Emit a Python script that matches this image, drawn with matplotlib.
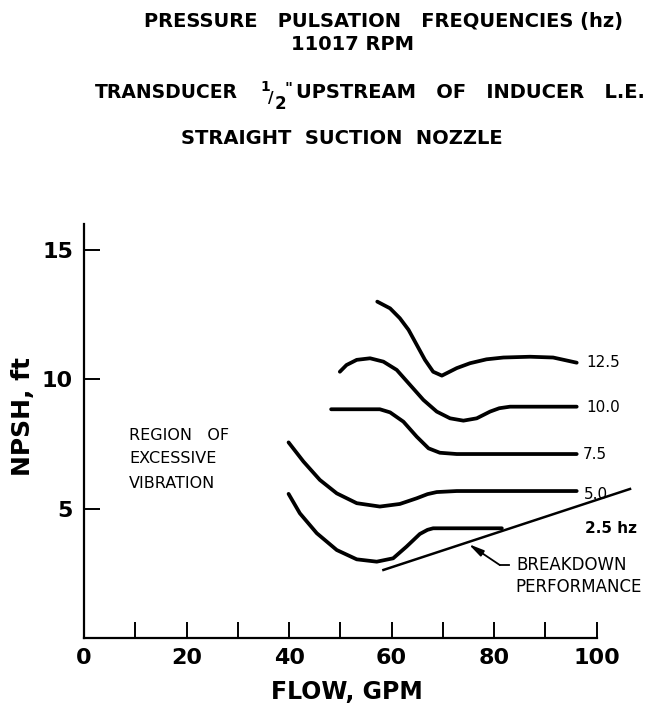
import matplotlib
matplotlib.use("Agg")
import matplotlib.pyplot as plt
from matplotlib.ticker import FixedLocator

# ---- data (FLOW gpm, NPSH ft) ----
flow_125 = [57.2, 59.7, 61.6, 63.3, 64.9, 66.5, 68.1, 69.8, 72.7, 75.3, 78.5, 81.8, 87.0, 91.5, 96.1]
npsh_125 = [13.0, 12.74, 12.36, 11.91, 11.33, 10.75, 10.29, 10.14, 10.43, 10.62, 10.77, 10.84, 10.87, 10.84, 10.64]

flow_100 = [49.9, 51.2, 53.2, 55.8, 58.4, 61.0, 63.6, 66.2, 68.8, 71.4, 74.0, 76.6, 79.2, 81.0, 83.1, 96.1]
npsh_100 = [10.29, 10.55, 10.75, 10.81, 10.68, 10.36, 9.78, 9.2, 8.75, 8.49, 8.40, 8.49, 8.75, 8.88, 8.94, 8.94]

flow_75 = [48.2, 57.7, 59.7, 62.3, 64.9, 67.2, 69.4, 72.7, 96.1]
npsh_75 = [8.84, 8.84, 8.72, 8.36, 7.78, 7.33, 7.16, 7.11, 7.11]

flow_50 = [39.9, 42.8, 46.0, 49.3, 53.2, 57.7, 61.6, 64.9, 67.0, 68.8, 72.7, 96.1]
npsh_50 = [7.56, 6.82, 6.11, 5.59, 5.21, 5.08, 5.18, 5.40, 5.56, 5.64, 5.68, 5.68]

flow_25 = [39.9, 42.1, 45.4, 49.3, 53.2, 57.1, 60.3, 62.9, 65.5, 67.0, 68.1, 81.5]
npsh_25 = [5.57, 4.82, 4.05, 3.40, 3.04, 2.95, 3.08, 3.53, 4.02, 4.18, 4.24, 4.24]

flow_breakdown = [58.4, 106.5]
npsh_breakdown = [2.63, 5.76]

curve_labels = ["12.5", "10.0", "7.5", "5.0", "2.5 hz"]
x_ticks_major = [0, 20, 40, 60, 80, 100]
x_ticks_minor = [10, 30, 50, 70, 90]
y_ticks = [5, 10, 15]

W, H = 645, 712
fig = plt.figure(figsize=(W / 100, H / 100), dpi=100)
fig.patch.set_facecolor("white")

def fx(px):
    return px / W

def fy(py):
    return 1 - py / H

ax = fig.add_axes([fx(84), fy(638), fx(596.7) - fx(84), fy(224) - fy(638)])
ax.set_xlim(0, 100)
ax.set_ylim(0, 16)

for s in ["top", "right"]:
    ax.spines[s].set_visible(False)
for s in ["left", "bottom"]:
    ax.spines[s].set_linewidth(1.6)
    ax.spines[s].set_color("black")

ax.xaxis.set_major_locator(FixedLocator(x_ticks_major))
ax.xaxis.set_minor_locator(FixedLocator(x_ticks_minor))
ax.yaxis.set_major_locator(FixedLocator(y_ticks))
ax.set_xticklabels([str(v) for v in x_ticks_major])
ax.set_yticklabels([str(v) for v in y_ticks])
ax.tick_params(axis="both", which="both", direction="in", length=11.5, width=1.4, color="black")
ax.tick_params(axis="x", which="major", pad=7, labelsize=16)
ax.tick_params(axis="y", which="major", pad=8, labelsize=16)
for lab in ax.get_xticklabels() + ax.get_yticklabels():
    lab.set_fontweight("bold")

lw = 2.7
series = [(flow_125, npsh_125), (flow_100, npsh_100), (flow_75, npsh_75),
          (flow_50, npsh_50), (flow_25, npsh_25)]
for fxs, fys in series:
    ax.plot(fxs, fys, color="black", lw=lw, solid_capstyle="round", solid_joinstyle="round")

ax.plot(flow_breakdown, npsh_breakdown, color="black", lw=1.8, clip_on=False)

# curve labels
label_pos = [(98.0, 10.64), (98.0, 8.90), (97.3, 7.11), (97.5, 5.53), (97.7, 4.24)]
for (lx, ly), t in zip(label_pos, curve_labels):
    ax.text(lx, ly, t, fontsize=11, ha="left", va="center", color="black",
            fontweight="bold" if "hz" in t else "normal", clip_on=False)

# breakdown annotation
ax.plot([82.8, 81.1], [2.82, 2.82], color="black", lw=1.3, clip_on=False)
ax.annotate("", xy=(75.0, 3.63), xytext=(81.1, 2.82),
            arrowprops=dict(arrowstyle="-|>,head_length=0.9,head_width=0.2", color="black", lw=1.3,
                            shrinkA=0, shrinkB=0))
ax.text(84.4, 2.82, "BREAKDOWN", fontsize=12, ha="left", va="center", clip_on=False)
ax.text(84.1, 1.97, "PERFORMANCE", fontsize=12, ha="left", va="center", clip_on=False)

# region text
ax.text(8.8, 7.84, "REGION   OF", fontsize=11.5, ha="left", va="center")
ax.text(8.8, 6.92, "EXCESSIVE", fontsize=11.5, ha="left", va="center")
ax.text(8.8, 5.98, "VIBRATION", fontsize=11.5, ha="left", va="center")

# axis labels
fig.text(fx(347), fy(692), "FLOW, GPM", fontsize=17, fontweight="bold", ha="center", va="center")
fig.text(fx(23), fy(417), "NPSH, ft", fontsize=18, fontweight="bold", ha="center", va="center",
         rotation=90)

# titles
tsz = 14
fig.text(fx(384), fy(21), "PRESSURE   PULSATION   FREQUENCIES (hz)", fontsize=tsz, fontweight="bold",
         ha="center", va="center")
fig.text(fx(353), fy(44), "11017 RPM", fontsize=tsz, fontweight="bold", ha="center", va="center")
fig.text(fx(238), fy(93), "TRANSDUCER", fontsize=13.5, fontweight="bold", ha="right", va="center")
fig.text(fx(265), fy(87), "1", fontsize=10, fontweight="bold", ha="center", va="center")
fig.text(fx(271), fy(98), "/", fontsize=11, fontweight="bold", ha="center", va="center")
fig.text(fx(280), fy(104), "2", fontsize=12, fontweight="bold", ha="center", va="center")
fig.text(fx(288), fy(90), "\"", fontsize=11, fontweight="bold", ha="center", va="center")
fig.text(fx(296), fy(93), "UPSTREAM   OF   INDUCER   L.E.", fontsize=tsz, fontweight="bold",
         ha="left", va="center")
fig.text(fx(341.5), fy(138), "STRAIGHT  SUCTION  NOZZLE", fontsize=tsz, fontweight="bold",
         ha="center", va="center")

fig.savefig("out.png", dpi=100, facecolor="white")
